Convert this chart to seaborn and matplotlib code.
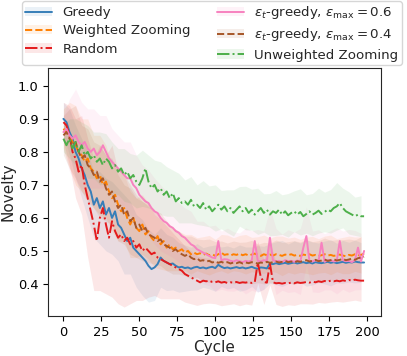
import matplotlib
matplotlib.use("Agg")
import matplotlib.pyplot as plt
import numpy as np
import seaborn as sns

# cycle positions of the mean curves, and of the (coarser) std bands
cycles = list(range(0, 199, 2))
band_cycles = list(range(0, 197, 4))

greedy = [
    0.90, 0.89, 0.86, 0.84, 0.80, 0.78, 0.75, 0.73, 0.70, 0.68,
    0.64, 0.66, 0.63, 0.65, 0.61, 0.63, 0.60, 0.62, 0.58, 0.57,
    0.55, 0.53, 0.54, 0.51, 0.50, 0.49, 0.48, 0.47, 0.455, 0.445,
    0.45, 0.46, 0.48, 0.47, 0.465, 0.46, 0.462, 0.455, 0.45, 0.452,
    0.448, 0.45, 0.446, 0.45, 0.452, 0.448, 0.45, 0.447, 0.45, 0.452,
    0.448, 0.458, 0.452, 0.448, 0.45, 0.447, 0.449, 0.451, 0.448, 0.45,
    0.447, 0.449, 0.452, 0.448, 0.446, 0.45, 0.449, 0.447, 0.462, 0.46,
    0.463, 0.46, 0.462, 0.464, 0.461, 0.463, 0.465, 0.462, 0.464, 0.466,
    0.463, 0.465, 0.462, 0.466, 0.464, 0.463, 0.465, 0.467, 0.464, 0.466,
    0.463, 0.465, 0.467, 0.464, 0.466, 0.465, 0.468, 0.466, 0.465, 0.465,
]
weighted = [
    0.87, 0.86, 0.85, 0.83, 0.82, 0.80, 0.79, 0.77, 0.78, 0.75,
    0.74, 0.72, 0.73, 0.70, 0.71, 0.68, 0.66, 0.67, 0.64, 0.62,
    0.63, 0.60, 0.58, 0.60, 0.57, 0.56, 0.58, 0.55, 0.56, 0.54,
    0.53, 0.545, 0.52, 0.53, 0.51, 0.52, 0.505, 0.51, 0.50, 0.505,
    0.495, 0.50, 0.49, 0.495, 0.49, 0.493, 0.488, 0.492, 0.487, 0.49,
    0.485, 0.49, 0.495, 0.488, 0.49, 0.486, 0.49, 0.488, 0.492, 0.487,
    0.49, 0.486, 0.489, 0.492, 0.488, 0.485, 0.49, 0.487, 0.489, 0.486,
    0.49, 0.488, 0.485, 0.489, 0.487, 0.49, 0.486, 0.488, 0.485, 0.489,
    0.487, 0.49, 0.486, 0.488, 0.485, 0.487, 0.49, 0.486, 0.488, 0.485,
    0.487, 0.489, 0.486, 0.484, 0.488, 0.486, 0.49, 0.487, 0.488, 0.492,
]
random_ = [
    0.89, 0.88, 0.85, 0.80, 0.78, 0.74, 0.76, 0.70, 0.66, 0.62,
    0.58, 0.53, 0.60, 0.63, 0.58, 0.54, 0.59, 0.56, 0.54, 0.55,
    0.53, 0.54, 0.52, 0.53, 0.51, 0.52, 0.50, 0.51, 0.50, 0.49,
    0.495, 0.48, 0.475, 0.47, 0.465, 0.46, 0.455, 0.45, 0.445, 0.44,
    0.43, 0.425, 0.42, 0.415, 0.41, 0.405, 0.41, 0.408, 0.41, 0.406,
    0.405, 0.408, 0.404, 0.406, 0.403, 0.405, 0.404, 0.406, 0.403, 0.405,
    0.404, 0.406, 0.403, 0.405, 0.465, 0.42, 0.406, 0.404, 0.462, 0.405,
    0.402, 0.403, 0.401, 0.403, 0.402, 0.404, 0.402, 0.405, 0.403, 0.404,
    0.406, 0.404, 0.407, 0.405, 0.408, 0.406, 0.409, 0.407, 0.41, 0.408,
    0.41, 0.408, 0.411, 0.409, 0.412, 0.41, 0.413, 0.411, 0.41, 0.41,
]
eps06 = [
    0.86, 0.87, 0.85, 0.84, 0.85, 0.83, 0.82, 0.83, 0.81, 0.80,
    0.81, 0.79, 0.80, 0.82, 0.80, 0.78, 0.77, 0.76, 0.75, 0.74,
    0.73, 0.72, 0.72, 0.70, 0.69, 0.67, 0.66, 0.65, 0.645, 0.63,
    0.62, 0.615, 0.60, 0.59, 0.585, 0.575, 0.57, 0.56, 0.555, 0.545,
    0.54, 0.53, 0.52, 0.515, 0.505, 0.50, 0.495, 0.49, 0.485, 0.48,
    0.478, 0.53, 0.472, 0.475, 0.474, 0.47, 0.468, 0.472, 0.469, 0.466,
    0.47, 0.468, 0.471, 0.53, 0.47, 0.468, 0.472, 0.47, 0.54, 0.472,
    0.468, 0.47, 0.466, 0.472, 0.469, 0.47, 0.467, 0.471, 0.468, 0.51,
    0.545, 0.47, 0.468, 0.472, 0.469, 0.525, 0.467, 0.472, 0.472, 0.468,
    0.47, 0.53, 0.472, 0.469, 0.47, 0.466, 0.472, 0.51, 0.468, 0.50,
]
eps04 = [
    0.85, 0.86, 0.84, 0.82, 0.83, 0.80, 0.78, 0.79, 0.76, 0.75,
    0.73, 0.74, 0.71, 0.72, 0.69, 0.67, 0.68, 0.65, 0.63, 0.64,
    0.61, 0.62, 0.59, 0.60, 0.57, 0.58, 0.56, 0.57, 0.55, 0.545,
    0.54, 0.53, 0.535, 0.52, 0.515, 0.51, 0.50, 0.505, 0.495, 0.49,
    0.485, 0.49, 0.48, 0.475, 0.478, 0.47, 0.472, 0.468, 0.47, 0.465,
    0.468, 0.464, 0.467, 0.463, 0.466, 0.462, 0.465, 0.463, 0.466, 0.462,
    0.465, 0.463, 0.466, 0.464, 0.462, 0.465, 0.463, 0.467, 0.464, 0.466,
    0.468, 0.465, 0.467, 0.47, 0.466, 0.468, 0.465, 0.469, 0.467, 0.47,
    0.472, 0.468, 0.47, 0.473, 0.469, 0.471, 0.474, 0.47, 0.472, 0.475,
    0.471, 0.473, 0.476, 0.472, 0.474, 0.477, 0.473, 0.478, 0.48, 0.482,
]
unweighted = [
    0.84, 0.82, 0.84, 0.81, 0.83, 0.80, 0.82, 0.79, 0.80, 0.78,
    0.79, 0.77, 0.78, 0.76, 0.78, 0.77, 0.75, 0.76, 0.74, 0.75,
    0.73, 0.74, 0.72, 0.73, 0.71, 0.70, 0.72, 0.75, 0.71, 0.69,
    0.70, 0.68, 0.69, 0.67, 0.68, 0.66, 0.675, 0.65, 0.66, 0.645,
    0.65, 0.64, 0.655, 0.635, 0.64, 0.63, 0.645, 0.625, 0.635, 0.62,
    0.63, 0.64, 0.625, 0.635, 0.62, 0.63, 0.615, 0.625, 0.635, 0.62,
    0.63, 0.615, 0.625, 0.61, 0.62, 0.63, 0.615, 0.625, 0.61, 0.62,
    0.615, 0.625, 0.61, 0.62, 0.608, 0.615, 0.62, 0.61, 0.618, 0.605,
    0.612, 0.62, 0.61, 0.615, 0.622, 0.612, 0.618, 0.625, 0.62, 0.63,
    0.635, 0.645, 0.63, 0.62, 0.615, 0.61, 0.605, 0.61, 0.605, 0.605,
]

# standard deviations, one every 4 cycles
greedy_sd = [
    0.05, 0.07, 0.08, 0.09, 0.10, 0.10, 0.11, 0.11, 0.11, 0.11,
    0.12, 0.11, 0.11, 0.115, 0.11, 0.10, 0.09, 0.085, 0.08, 0.075,
    0.07, 0.065, 0.07, 0.06, 0.065, 0.07, 0.06, 0.065, 0.06, 0.07,
    0.065, 0.06, 0.07, 0.065, 0.06, 0.065, 0.07, 0.06, 0.065, 0.06,
    0.07, 0.065, 0.06, 0.065, 0.07, 0.06, 0.065, 0.06, 0.065, 0.06,
]
weighted_sd = [
    0.06, 0.10, 0.12, 0.11, 0.12, 0.11, 0.12, 0.11, 0.10, 0.11,
    0.10, 0.10, 0.09, 0.09, 0.085, 0.08, 0.075, 0.07, 0.065, 0.06,
    0.055, 0.06, 0.05, 0.055, 0.06, 0.05, 0.055, 0.058, 0.05, 0.055,
    0.06, 0.052, 0.055, 0.058, 0.05, 0.055, 0.06, 0.052, 0.056, 0.05,
    0.055, 0.058, 0.052, 0.055, 0.06, 0.05, 0.055, 0.057, 0.052, 0.055,
]
random_sd = [
    0.06, 0.09, 0.12, 0.15, 0.18, 0.20, 0.22, 0.21, 0.23, 0.20,
    0.20, 0.18, 0.16, 0.15, 0.14, 0.13, 0.12, 0.11, 0.10, 0.09,
    0.085, 0.08, 0.075, 0.07, 0.068, 0.065, 0.07, 0.066, 0.064, 0.069,
    0.065, 0.067, 0.063, 0.068, 0.066, 0.064, 0.069, 0.065, 0.067, 0.063,
    0.066, 0.068, 0.064, 0.067, 0.065, 0.063, 0.066, 0.064, 0.062, 0.063,
]
eps06_sd = [
    0.05, 0.11, 0.14, 0.13, 0.12, 0.12, 0.11, 0.11, 0.10, 0.10,
    0.10, 0.11, 0.10, 0.10, 0.10, 0.10, 0.10, 0.095, 0.09, 0.09,
    0.09, 0.10, 0.085, 0.095, 0.09, 0.10, 0.088, 0.095, 0.09, 0.085,
    0.10, 0.09, 0.095, 0.088, 0.09, 0.10, 0.085, 0.095, 0.09, 0.10,
    0.088, 0.092, 0.095, 0.085, 0.09, 0.10, 0.088, 0.095, 0.09, 0.085,
]
eps04_sd = [
    0.06, 0.09, 0.11, 0.10, 0.11, 0.10, 0.11, 0.10, 0.10, 0.10,
    0.09, 0.10, 0.09, 0.09, 0.085, 0.08, 0.08, 0.075, 0.07, 0.065,
    0.06, 0.065, 0.058, 0.062, 0.066, 0.06, 0.063, 0.058, 0.065, 0.06,
    0.062, 0.066, 0.058, 0.063, 0.06, 0.065, 0.059, 0.062, 0.066, 0.06,
    0.063, 0.058, 0.062, 0.065, 0.06, 0.063, 0.058, 0.062, 0.06, 0.063,
]
unweighted_sd = [
    0.04, 0.06, 0.07, 0.07, 0.08, 0.07, 0.08, 0.075, 0.08, 0.07,
    0.08, 0.075, 0.08, 0.085, 0.08, 0.075, 0.08, 0.075, 0.07, 0.075,
    0.065, 0.07, 0.06, 0.068, 0.062, 0.07, 0.058, 0.065, 0.07, 0.06,
    0.066, 0.062, 0.07, 0.058, 0.064, 0.068, 0.06, 0.066, 0.062, 0.07,
    0.058, 0.064, 0.068, 0.06, 0.066, 0.072, 0.06, 0.064, 0.058, 0.062,
]

labels = [
    "Greedy",
    "Weighted Zooming",
    "Random",
    r"$\epsilon_t$-greedy, $\epsilon_{\max} = 0.6$",
    r"$\epsilon_t$-greedy, $\epsilon_{\max} = 0.4$",
    "Unweighted Zooming",
]
means = [greedy, weighted, random_, eps06, eps04, unweighted]
sds = [greedy_sd, weighted_sd, random_sd, eps06_sd, eps04_sd, unweighted_sd]
colors = ["#377eb8", "#ff7f00", "#e41a1c", "#f781bf", "#a65628", "#4daf4a"]
styles = ["-", "--", "-.", "-", "--", "-."]

sns.set_style("ticks")
plt.rcParams["font.family"] = ["DejaVu Sans"]

fig = plt.figure(figsize=(4.07, 3.56), dpi=100)
ax = fig.add_axes([0.1187, 0.1124, 0.8167, 0.6966])

handles = []
for mean, sd, color, ls in zip(means, sds, colors, styles):
    sns.lineplot(x=cycles, y=mean, color=color, linestyle=ls, linewidth=1.4, ax=ax)
    line = ax.lines[-1]
    m = np.array(mean)[::2]
    s = np.array(sd)
    band = ax.fill_between(band_cycles, m - s, m + s, color=color, alpha=0.1, linewidth=0)
    handles.append((band, line))

ax.set_xlim(-9.95, 208.95)
ax.set_ylim(0.303, 1.054)
ax.set_xticks([0, 25, 50, 75, 100, 125, 150, 175, 200])
ax.set_yticks([0.4, 0.5, 0.6, 0.7, 0.8, 0.9, 1.0])
ax.tick_params(labelsize=9.4, colors="black")
ax.set_xlabel("Cycle", fontsize=11, labelpad=1)
ax.set_ylabel("Novelty", fontsize=11, labelpad=2)

fig.legend(
    handles,
    labels,
    ncol=2,
    loc="upper center",
    bbox_to_anchor=(0.5205, 0.997),
    borderaxespad=0,
    borderpad=0.25,
    labelspacing=0.38,
    fontsize=9.6,
)

fig.savefig("out.png", dpi=100)
